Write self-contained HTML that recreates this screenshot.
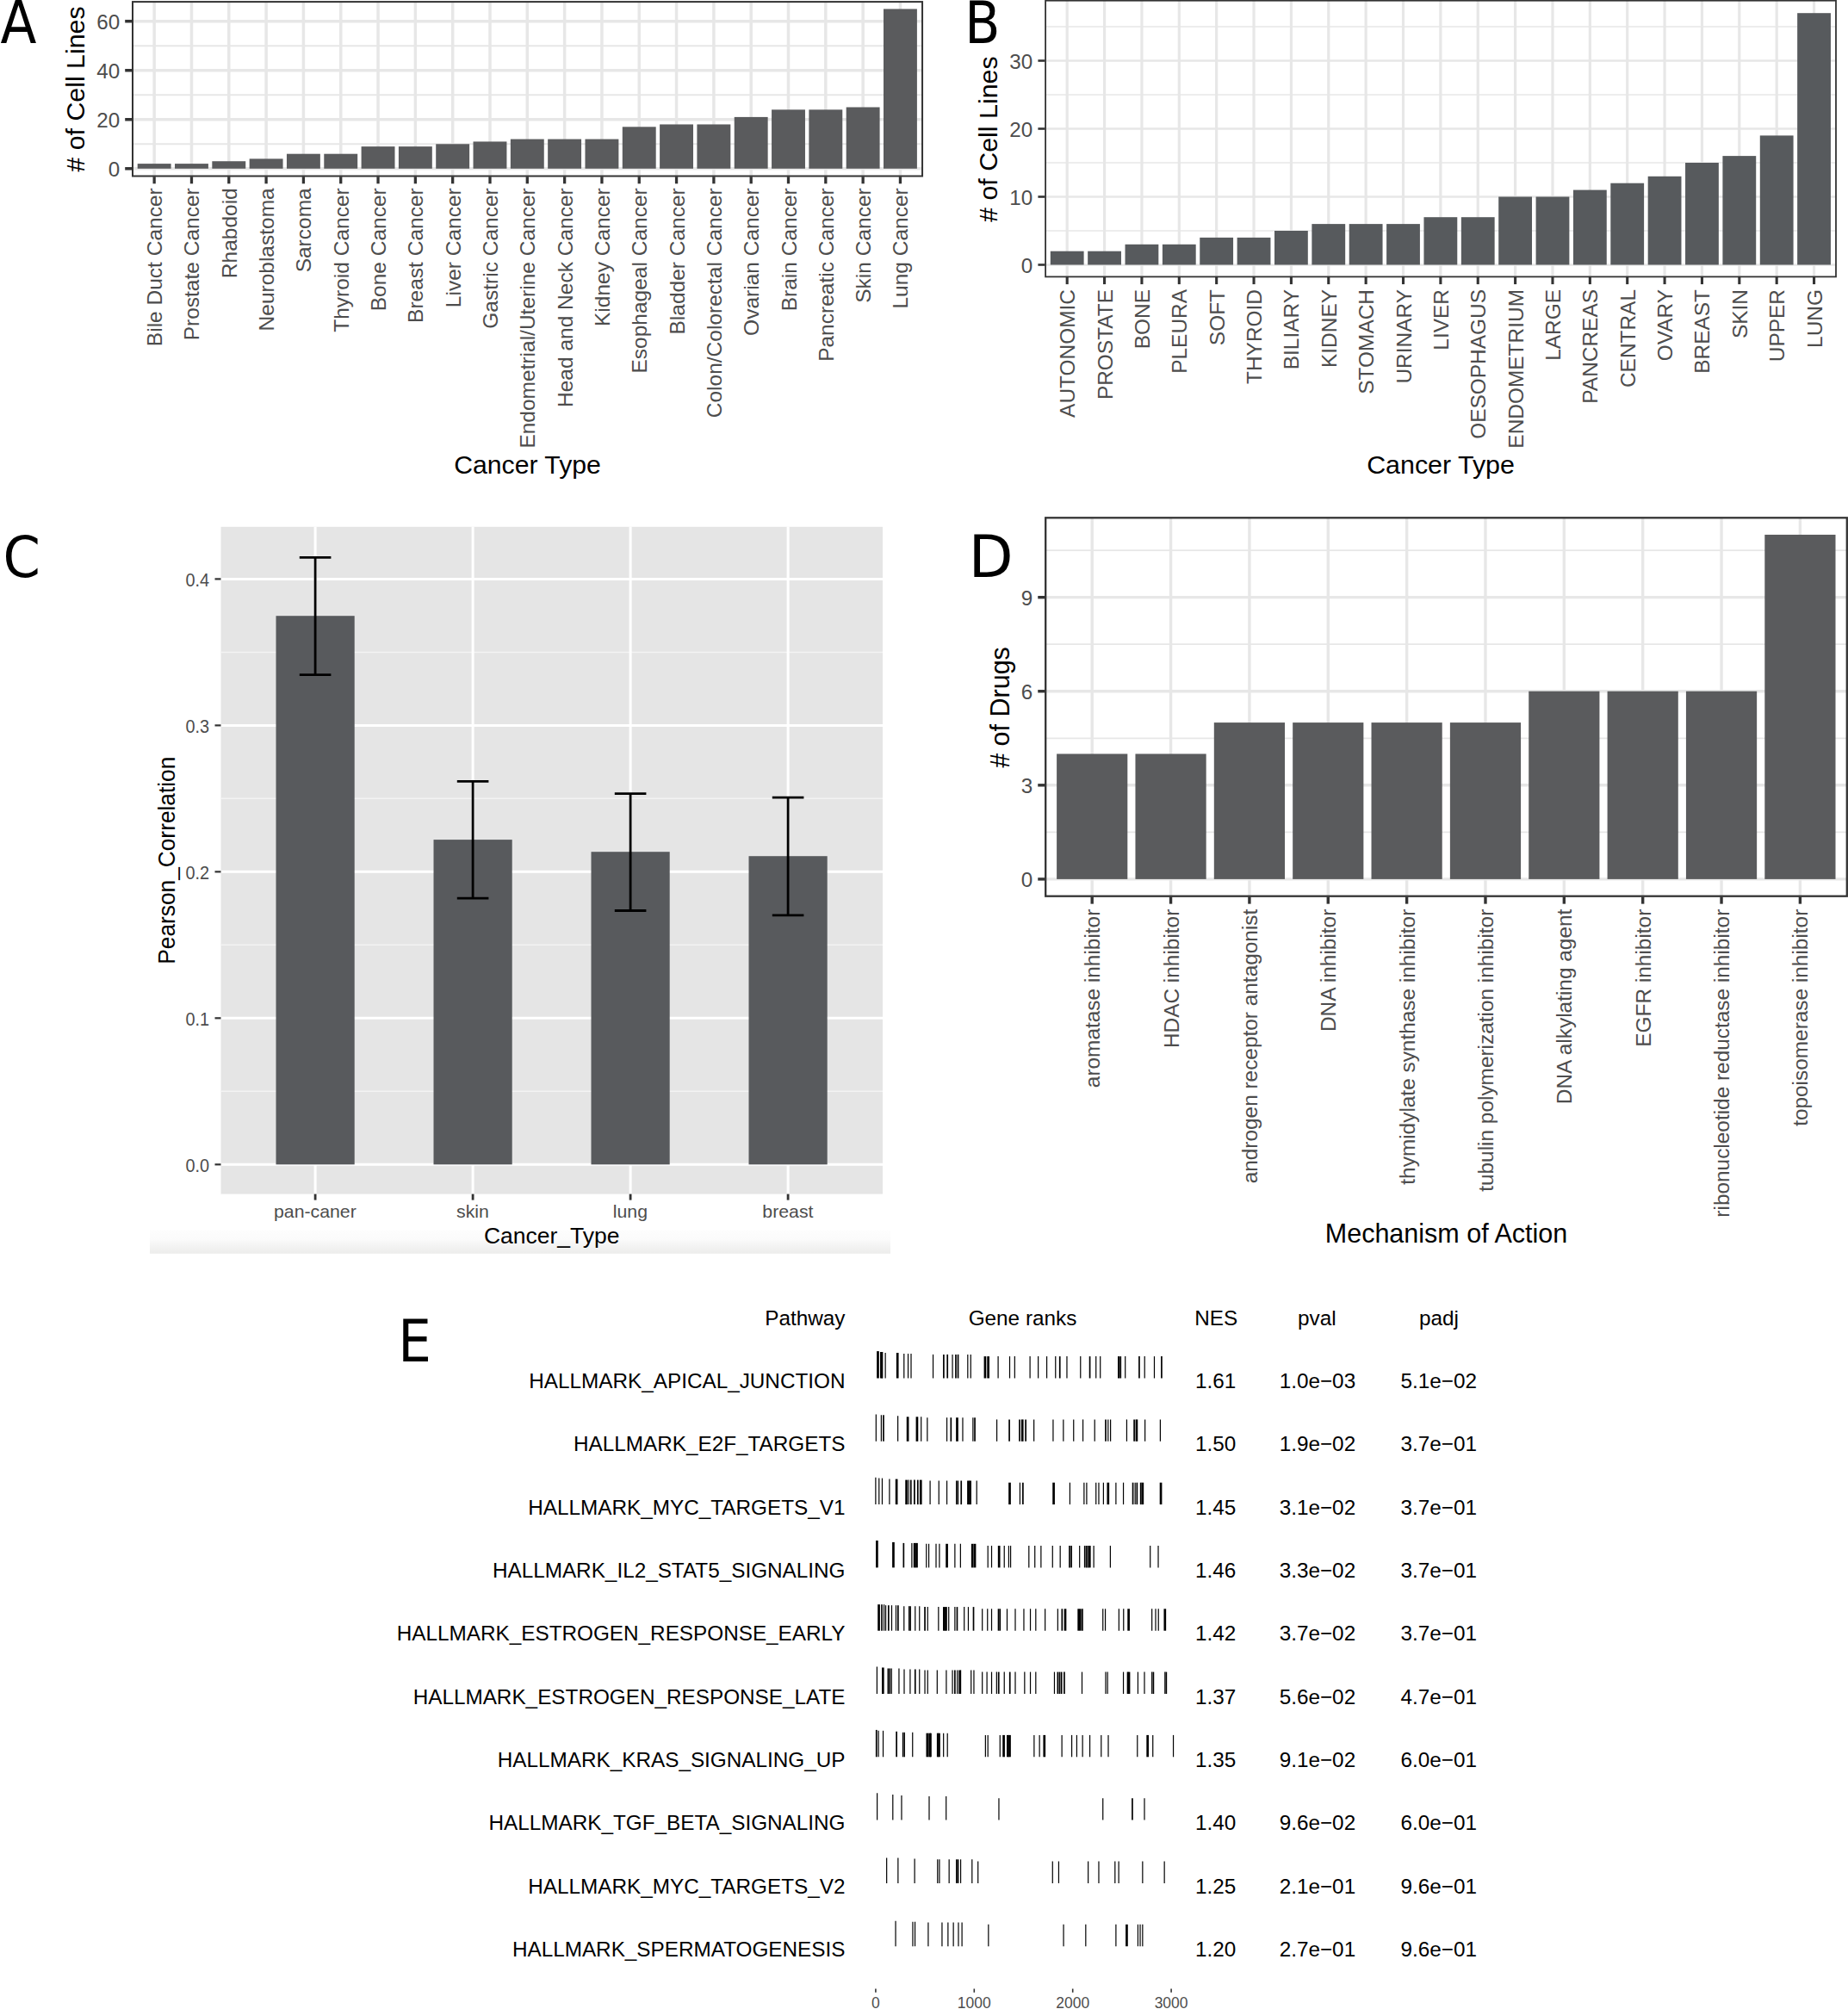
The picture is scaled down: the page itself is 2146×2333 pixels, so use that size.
<!DOCTYPE html>
<html lang="en"><head><meta charset="utf-8"><title>Figure</title>
<style>
html,body{margin:0;padding:0;background:#fff;}
body{width:2146px;height:2333px;overflow:hidden;}
svg{display:block;font-family:"Liberation Sans",sans-serif;}
</style></head><body>
<svg width="2146" height="2333" viewBox="0 0 2146 2333">
<defs><linearGradient id="fade" x1="0" y1="0" x2="0" y2="1"><stop offset="0" stop-color="#ffffff"/><stop offset="0.06" stop-color="#fdfdfd"/><stop offset="0.42" stop-color="#fbfbfb"/><stop offset="0.48" stop-color="#f8f8f8"/><stop offset="1" stop-color="#ececeb"/></linearGradient></defs>
<rect width="2146" height="2333" fill="#ffffff"/>
<g>
<line x1="154" x2="1071.05" y1="167.28" y2="167.28" stroke="#e7e7e7" stroke-width="1.9"/>
<line x1="154" x2="1071.05" y1="110.24" y2="110.24" stroke="#e7e7e7" stroke-width="1.9"/>
<line x1="154" x2="1071.05" y1="53.2" y2="53.2" stroke="#e7e7e7" stroke-width="1.9"/>
<line x1="154" x2="1071.05" y1="195.8" y2="195.8" stroke="#e7e7e7" stroke-width="3.5"/>
<line x1="154" x2="1071.05" y1="138.76" y2="138.76" stroke="#e7e7e7" stroke-width="3.5"/>
<line x1="154" x2="1071.05" y1="81.72" y2="81.72" stroke="#e7e7e7" stroke-width="3.5"/>
<line x1="154" x2="1071.05" y1="24.68" y2="24.68" stroke="#e7e7e7" stroke-width="3.5"/>
<line x1="179.15" x2="179.15" y1="2.1" y2="204.5" stroke="#e7e7e7" stroke-width="3.5"/>
<line x1="222.47" x2="222.47" y1="2.1" y2="204.5" stroke="#e7e7e7" stroke-width="3.5"/>
<line x1="265.78" x2="265.78" y1="2.1" y2="204.5" stroke="#e7e7e7" stroke-width="3.5"/>
<line x1="309.1" x2="309.1" y1="2.1" y2="204.5" stroke="#e7e7e7" stroke-width="3.5"/>
<line x1="352.41" x2="352.41" y1="2.1" y2="204.5" stroke="#e7e7e7" stroke-width="3.5"/>
<line x1="395.73" x2="395.73" y1="2.1" y2="204.5" stroke="#e7e7e7" stroke-width="3.5"/>
<line x1="439.04" x2="439.04" y1="2.1" y2="204.5" stroke="#e7e7e7" stroke-width="3.5"/>
<line x1="482.36" x2="482.36" y1="2.1" y2="204.5" stroke="#e7e7e7" stroke-width="3.5"/>
<line x1="525.67" x2="525.67" y1="2.1" y2="204.5" stroke="#e7e7e7" stroke-width="3.5"/>
<line x1="568.99" x2="568.99" y1="2.1" y2="204.5" stroke="#e7e7e7" stroke-width="3.5"/>
<line x1="612.3" x2="612.3" y1="2.1" y2="204.5" stroke="#e7e7e7" stroke-width="3.5"/>
<line x1="655.62" x2="655.62" y1="2.1" y2="204.5" stroke="#e7e7e7" stroke-width="3.5"/>
<line x1="698.93" x2="698.93" y1="2.1" y2="204.5" stroke="#e7e7e7" stroke-width="3.5"/>
<line x1="742.25" x2="742.25" y1="2.1" y2="204.5" stroke="#e7e7e7" stroke-width="3.5"/>
<line x1="785.56" x2="785.56" y1="2.1" y2="204.5" stroke="#e7e7e7" stroke-width="3.5"/>
<line x1="828.88" x2="828.88" y1="2.1" y2="204.5" stroke="#e7e7e7" stroke-width="3.5"/>
<line x1="872.19" x2="872.19" y1="2.1" y2="204.5" stroke="#e7e7e7" stroke-width="3.5"/>
<line x1="915.51" x2="915.51" y1="2.1" y2="204.5" stroke="#e7e7e7" stroke-width="3.5"/>
<line x1="958.82" x2="958.82" y1="2.1" y2="204.5" stroke="#e7e7e7" stroke-width="3.5"/>
<line x1="1002.14" x2="1002.14" y1="2.1" y2="204.5" stroke="#e7e7e7" stroke-width="3.5"/>
<line x1="1045.45" x2="1045.45" y1="2.1" y2="204.5" stroke="#e7e7e7" stroke-width="3.5"/>
<rect x="159.7" y="190.1" width="38.9" height="5.7" fill="#5a5b5d"/>
<rect x="203.02" y="190.1" width="38.9" height="5.7" fill="#5a5b5d"/>
<rect x="246.33" y="187.24" width="38.9" height="8.56" fill="#5a5b5d"/>
<rect x="289.65" y="184.39" width="38.9" height="11.41" fill="#5a5b5d"/>
<rect x="332.96" y="178.69" width="38.9" height="17.11" fill="#5a5b5d"/>
<rect x="376.28" y="178.69" width="38.9" height="17.11" fill="#5a5b5d"/>
<rect x="419.59" y="170.13" width="38.9" height="25.67" fill="#5a5b5d"/>
<rect x="462.91" y="170.13" width="38.9" height="25.67" fill="#5a5b5d"/>
<rect x="506.22" y="167.28" width="38.9" height="28.52" fill="#5a5b5d"/>
<rect x="549.53" y="164.43" width="38.9" height="31.37" fill="#5a5b5d"/>
<rect x="592.85" y="161.58" width="38.9" height="34.22" fill="#5a5b5d"/>
<rect x="636.16" y="161.58" width="38.9" height="34.22" fill="#5a5b5d"/>
<rect x="679.48" y="161.58" width="38.9" height="34.22" fill="#5a5b5d"/>
<rect x="722.79" y="147.32" width="38.9" height="48.48" fill="#5a5b5d"/>
<rect x="766.11" y="144.46" width="38.9" height="51.34" fill="#5a5b5d"/>
<rect x="809.42" y="144.46" width="38.9" height="51.34" fill="#5a5b5d"/>
<rect x="852.74" y="135.91" width="38.9" height="59.89" fill="#5a5b5d"/>
<rect x="896.06" y="127.35" width="38.9" height="68.45" fill="#5a5b5d"/>
<rect x="939.37" y="127.35" width="38.9" height="68.45" fill="#5a5b5d"/>
<rect x="982.69" y="124.5" width="38.9" height="71.3" fill="#5a5b5d"/>
<rect x="1026" y="10.42" width="38.9" height="185.38" fill="#5a5b5d"/>
<rect x="154" y="2.1" width="917.05" height="202.4" fill="none" stroke="#333333" stroke-width="2.0"/>
<line x1="145.2" x2="153.3" y1="195.8" y2="195.8" stroke="#333333" stroke-width="3.5"/>
<text x="139.2" y="204.8" font-size="24.2" fill="#4d4d4d" text-anchor="end">0</text>
<line x1="145.2" x2="153.3" y1="138.76" y2="138.76" stroke="#333333" stroke-width="3.5"/>
<text x="139.2" y="147.76" font-size="24.2" fill="#4d4d4d" text-anchor="end">20</text>
<line x1="145.2" x2="153.3" y1="81.72" y2="81.72" stroke="#333333" stroke-width="3.5"/>
<text x="139.2" y="90.72" font-size="24.2" fill="#4d4d4d" text-anchor="end">40</text>
<line x1="145.2" x2="153.3" y1="24.68" y2="24.68" stroke="#333333" stroke-width="3.5"/>
<text x="139.2" y="33.68" font-size="24.2" fill="#4d4d4d" text-anchor="end">60</text>
<line x1="179.15" x2="179.15" y1="205.2" y2="213.3" stroke="#333333" stroke-width="3.3"/>
<text transform="translate(188.15,218.3) rotate(-90)" font-size="24.5" fill="#4d4d4d" text-anchor="end">Bile Duct Cancer</text>
<line x1="222.47" x2="222.47" y1="205.2" y2="213.3" stroke="#333333" stroke-width="3.3"/>
<text transform="translate(231.47,218.3) rotate(-90)" font-size="24.5" fill="#4d4d4d" text-anchor="end">Prostate Cancer</text>
<line x1="265.78" x2="265.78" y1="205.2" y2="213.3" stroke="#333333" stroke-width="3.3"/>
<text transform="translate(274.78,218.3) rotate(-90)" font-size="24.5" fill="#4d4d4d" text-anchor="end">Rhabdoid</text>
<line x1="309.1" x2="309.1" y1="205.2" y2="213.3" stroke="#333333" stroke-width="3.3"/>
<text transform="translate(318.1,218.3) rotate(-90)" font-size="24.5" fill="#4d4d4d" text-anchor="end">Neuroblastoma</text>
<line x1="352.41" x2="352.41" y1="205.2" y2="213.3" stroke="#333333" stroke-width="3.3"/>
<text transform="translate(361.41,218.3) rotate(-90)" font-size="24.5" fill="#4d4d4d" text-anchor="end">Sarcoma</text>
<line x1="395.73" x2="395.73" y1="205.2" y2="213.3" stroke="#333333" stroke-width="3.3"/>
<text transform="translate(404.73,218.3) rotate(-90)" font-size="24.5" fill="#4d4d4d" text-anchor="end">Thyroid Cancer</text>
<line x1="439.04" x2="439.04" y1="205.2" y2="213.3" stroke="#333333" stroke-width="3.3"/>
<text transform="translate(448.04,218.3) rotate(-90)" font-size="24.5" fill="#4d4d4d" text-anchor="end">Bone Cancer</text>
<line x1="482.36" x2="482.36" y1="205.2" y2="213.3" stroke="#333333" stroke-width="3.3"/>
<text transform="translate(491.36,218.3) rotate(-90)" font-size="24.5" fill="#4d4d4d" text-anchor="end">Breast Cancer</text>
<line x1="525.67" x2="525.67" y1="205.2" y2="213.3" stroke="#333333" stroke-width="3.3"/>
<text transform="translate(534.67,218.3) rotate(-90)" font-size="24.5" fill="#4d4d4d" text-anchor="end">Liver Cancer</text>
<line x1="568.99" x2="568.99" y1="205.2" y2="213.3" stroke="#333333" stroke-width="3.3"/>
<text transform="translate(577.99,218.3) rotate(-90)" font-size="24.5" fill="#4d4d4d" text-anchor="end">Gastric Cancer</text>
<line x1="612.3" x2="612.3" y1="205.2" y2="213.3" stroke="#333333" stroke-width="3.3"/>
<text transform="translate(621.3,218.3) rotate(-90)" font-size="24.5" fill="#4d4d4d" text-anchor="end">Endometrial/Uterine Cancer</text>
<line x1="655.62" x2="655.62" y1="205.2" y2="213.3" stroke="#333333" stroke-width="3.3"/>
<text transform="translate(664.62,218.3) rotate(-90)" font-size="24.5" fill="#4d4d4d" text-anchor="end">Head and Neck Cancer</text>
<line x1="698.93" x2="698.93" y1="205.2" y2="213.3" stroke="#333333" stroke-width="3.3"/>
<text transform="translate(707.93,218.3) rotate(-90)" font-size="24.5" fill="#4d4d4d" text-anchor="end">Kidney Cancer</text>
<line x1="742.25" x2="742.25" y1="205.2" y2="213.3" stroke="#333333" stroke-width="3.3"/>
<text transform="translate(751.25,218.3) rotate(-90)" font-size="24.5" fill="#4d4d4d" text-anchor="end">Esophageal Cancer</text>
<line x1="785.56" x2="785.56" y1="205.2" y2="213.3" stroke="#333333" stroke-width="3.3"/>
<text transform="translate(794.56,218.3) rotate(-90)" font-size="24.5" fill="#4d4d4d" text-anchor="end">Bladder Cancer</text>
<line x1="828.88" x2="828.88" y1="205.2" y2="213.3" stroke="#333333" stroke-width="3.3"/>
<text transform="translate(837.88,218.3) rotate(-90)" font-size="24.5" fill="#4d4d4d" text-anchor="end">Colon/Colorectal Cancer</text>
<line x1="872.19" x2="872.19" y1="205.2" y2="213.3" stroke="#333333" stroke-width="3.3"/>
<text transform="translate(881.19,218.3) rotate(-90)" font-size="24.5" fill="#4d4d4d" text-anchor="end">Ovarian Cancer</text>
<line x1="915.51" x2="915.51" y1="205.2" y2="213.3" stroke="#333333" stroke-width="3.3"/>
<text transform="translate(924.51,218.3) rotate(-90)" font-size="24.5" fill="#4d4d4d" text-anchor="end">Brain Cancer</text>
<line x1="958.82" x2="958.82" y1="205.2" y2="213.3" stroke="#333333" stroke-width="3.3"/>
<text transform="translate(967.82,218.3) rotate(-90)" font-size="24.5" fill="#4d4d4d" text-anchor="end">Pancreatic Cancer</text>
<line x1="1002.14" x2="1002.14" y1="205.2" y2="213.3" stroke="#333333" stroke-width="3.3"/>
<text transform="translate(1011.14,218.3) rotate(-90)" font-size="24.5" fill="#4d4d4d" text-anchor="end">Skin Cancer</text>
<line x1="1045.45" x2="1045.45" y1="205.2" y2="213.3" stroke="#333333" stroke-width="3.3"/>
<text transform="translate(1054.45,218.3) rotate(-90)" font-size="24.5" fill="#4d4d4d" text-anchor="end">Lung Cancer</text>
<text transform="translate(98,103.5) rotate(-90)" font-size="30.35" fill="#000" text-anchor="middle"># of Cell Lines</text>
<text x="612.52" y="550" font-size="30.2" fill="#000" text-anchor="middle">Cancer Type</text>
</g>
<g>
<line x1="1214.1" x2="2132" y1="268" y2="268" stroke="#e7e7e7" stroke-width="1.4"/>
<line x1="1214.1" x2="2132" y1="189" y2="189" stroke="#e7e7e7" stroke-width="1.4"/>
<line x1="1214.1" x2="2132" y1="110" y2="110" stroke="#e7e7e7" stroke-width="1.4"/>
<line x1="1214.1" x2="2132" y1="31" y2="31" stroke="#e7e7e7" stroke-width="1.4"/>
<line x1="1214.1" x2="2132" y1="307.5" y2="307.5" stroke="#e7e7e7" stroke-width="2.6"/>
<line x1="1214.1" x2="2132" y1="228.5" y2="228.5" stroke="#e7e7e7" stroke-width="2.6"/>
<line x1="1214.1" x2="2132" y1="149.5" y2="149.5" stroke="#e7e7e7" stroke-width="2.6"/>
<line x1="1214.1" x2="2132" y1="70.5" y2="70.5" stroke="#e7e7e7" stroke-width="2.6"/>
<line x1="1239.2" x2="1239.2" y1="0.7" y2="321.4" stroke="#e7e7e7" stroke-width="3.2"/>
<line x1="1282.57" x2="1282.57" y1="0.7" y2="321.4" stroke="#e7e7e7" stroke-width="3.2"/>
<line x1="1325.93" x2="1325.93" y1="0.7" y2="321.4" stroke="#e7e7e7" stroke-width="3.2"/>
<line x1="1369.3" x2="1369.3" y1="0.7" y2="321.4" stroke="#e7e7e7" stroke-width="3.2"/>
<line x1="1412.67" x2="1412.67" y1="0.7" y2="321.4" stroke="#e7e7e7" stroke-width="3.2"/>
<line x1="1456.04" x2="1456.04" y1="0.7" y2="321.4" stroke="#e7e7e7" stroke-width="3.2"/>
<line x1="1499.41" x2="1499.41" y1="0.7" y2="321.4" stroke="#e7e7e7" stroke-width="3.2"/>
<line x1="1542.77" x2="1542.77" y1="0.7" y2="321.4" stroke="#e7e7e7" stroke-width="3.2"/>
<line x1="1586.14" x2="1586.14" y1="0.7" y2="321.4" stroke="#e7e7e7" stroke-width="3.2"/>
<line x1="1629.51" x2="1629.51" y1="0.7" y2="321.4" stroke="#e7e7e7" stroke-width="3.2"/>
<line x1="1672.88" x2="1672.88" y1="0.7" y2="321.4" stroke="#e7e7e7" stroke-width="3.2"/>
<line x1="1716.24" x2="1716.24" y1="0.7" y2="321.4" stroke="#e7e7e7" stroke-width="3.2"/>
<line x1="1759.61" x2="1759.61" y1="0.7" y2="321.4" stroke="#e7e7e7" stroke-width="3.2"/>
<line x1="1802.98" x2="1802.98" y1="0.7" y2="321.4" stroke="#e7e7e7" stroke-width="3.2"/>
<line x1="1846.35" x2="1846.35" y1="0.7" y2="321.4" stroke="#e7e7e7" stroke-width="3.2"/>
<line x1="1889.71" x2="1889.71" y1="0.7" y2="321.4" stroke="#e7e7e7" stroke-width="3.2"/>
<line x1="1933.08" x2="1933.08" y1="0.7" y2="321.4" stroke="#e7e7e7" stroke-width="3.2"/>
<line x1="1976.45" x2="1976.45" y1="0.7" y2="321.4" stroke="#e7e7e7" stroke-width="3.2"/>
<line x1="2019.82" x2="2019.82" y1="0.7" y2="321.4" stroke="#e7e7e7" stroke-width="3.2"/>
<line x1="2063.18" x2="2063.18" y1="0.7" y2="321.4" stroke="#e7e7e7" stroke-width="3.2"/>
<line x1="2106.55" x2="2106.55" y1="0.7" y2="321.4" stroke="#e7e7e7" stroke-width="3.2"/>
<rect x="1219.8" y="291.7" width="38.8" height="15.8" fill="#575a5d"/>
<rect x="1263.17" y="291.7" width="38.8" height="15.8" fill="#575a5d"/>
<rect x="1306.53" y="283.8" width="38.8" height="23.7" fill="#575a5d"/>
<rect x="1349.9" y="283.8" width="38.8" height="23.7" fill="#575a5d"/>
<rect x="1393.27" y="275.9" width="38.8" height="31.6" fill="#575a5d"/>
<rect x="1436.64" y="275.9" width="38.8" height="31.6" fill="#575a5d"/>
<rect x="1480.01" y="268" width="38.8" height="39.5" fill="#575a5d"/>
<rect x="1523.37" y="260.1" width="38.8" height="47.4" fill="#575a5d"/>
<rect x="1566.74" y="260.1" width="38.8" height="47.4" fill="#575a5d"/>
<rect x="1610.11" y="260.1" width="38.8" height="47.4" fill="#575a5d"/>
<rect x="1653.47" y="252.2" width="38.8" height="55.3" fill="#575a5d"/>
<rect x="1696.84" y="252.2" width="38.8" height="55.3" fill="#575a5d"/>
<rect x="1740.21" y="228.5" width="38.8" height="79" fill="#575a5d"/>
<rect x="1783.58" y="228.5" width="38.8" height="79" fill="#575a5d"/>
<rect x="1826.95" y="220.6" width="38.8" height="86.9" fill="#575a5d"/>
<rect x="1870.31" y="212.7" width="38.8" height="94.8" fill="#575a5d"/>
<rect x="1913.68" y="204.8" width="38.8" height="102.7" fill="#575a5d"/>
<rect x="1957.05" y="189" width="38.8" height="118.5" fill="#575a5d"/>
<rect x="2000.41" y="181.1" width="38.8" height="126.4" fill="#575a5d"/>
<rect x="2043.78" y="157.4" width="38.8" height="150.1" fill="#575a5d"/>
<rect x="2087.15" y="15.2" width="38.8" height="292.3" fill="#575a5d"/>
<rect x="1214.1" y="0.7" width="917.9" height="320.7" fill="none" stroke="#333333" stroke-width="1.8"/>
<line x1="1205.4" x2="1213.5" y1="307.5" y2="307.5" stroke="#333333" stroke-width="2.6"/>
<text x="1199.2" y="316.5" font-size="24.2" fill="#4d4d4d" text-anchor="end">0</text>
<line x1="1205.4" x2="1213.5" y1="228.5" y2="228.5" stroke="#333333" stroke-width="2.6"/>
<text x="1199.2" y="237.5" font-size="24.2" fill="#4d4d4d" text-anchor="end">10</text>
<line x1="1205.4" x2="1213.5" y1="149.5" y2="149.5" stroke="#333333" stroke-width="2.6"/>
<text x="1199.2" y="158.5" font-size="24.2" fill="#4d4d4d" text-anchor="end">20</text>
<line x1="1205.4" x2="1213.5" y1="70.5" y2="70.5" stroke="#333333" stroke-width="2.6"/>
<text x="1199.2" y="79.5" font-size="24.2" fill="#4d4d4d" text-anchor="end">30</text>
<line x1="1239.2" x2="1239.2" y1="322" y2="330.1" stroke="#333333" stroke-width="3.1"/>
<text transform="translate(1248.2,336) rotate(-90)" font-size="24.45" fill="#4d4d4d" text-anchor="end">AUTONOMIC</text>
<line x1="1282.57" x2="1282.57" y1="322" y2="330.1" stroke="#333333" stroke-width="3.1"/>
<text transform="translate(1291.57,336) rotate(-90)" font-size="24.45" fill="#4d4d4d" text-anchor="end">PROSTATE</text>
<line x1="1325.93" x2="1325.93" y1="322" y2="330.1" stroke="#333333" stroke-width="3.1"/>
<text transform="translate(1334.93,336) rotate(-90)" font-size="24.45" fill="#4d4d4d" text-anchor="end">BONE</text>
<line x1="1369.3" x2="1369.3" y1="322" y2="330.1" stroke="#333333" stroke-width="3.1"/>
<text transform="translate(1378.3,336) rotate(-90)" font-size="24.45" fill="#4d4d4d" text-anchor="end">PLEURA</text>
<line x1="1412.67" x2="1412.67" y1="322" y2="330.1" stroke="#333333" stroke-width="3.1"/>
<text transform="translate(1421.67,336) rotate(-90)" font-size="24.45" fill="#4d4d4d" text-anchor="end">SOFT</text>
<line x1="1456.04" x2="1456.04" y1="322" y2="330.1" stroke="#333333" stroke-width="3.1"/>
<text transform="translate(1465.04,336) rotate(-90)" font-size="24.45" fill="#4d4d4d" text-anchor="end">THYROID</text>
<line x1="1499.41" x2="1499.41" y1="322" y2="330.1" stroke="#333333" stroke-width="3.1"/>
<text transform="translate(1508.41,336) rotate(-90)" font-size="24.45" fill="#4d4d4d" text-anchor="end">BILIARY</text>
<line x1="1542.77" x2="1542.77" y1="322" y2="330.1" stroke="#333333" stroke-width="3.1"/>
<text transform="translate(1551.77,336) rotate(-90)" font-size="24.45" fill="#4d4d4d" text-anchor="end">KIDNEY</text>
<line x1="1586.14" x2="1586.14" y1="322" y2="330.1" stroke="#333333" stroke-width="3.1"/>
<text transform="translate(1595.14,336) rotate(-90)" font-size="24.45" fill="#4d4d4d" text-anchor="end">STOMACH</text>
<line x1="1629.51" x2="1629.51" y1="322" y2="330.1" stroke="#333333" stroke-width="3.1"/>
<text transform="translate(1638.51,336) rotate(-90)" font-size="24.45" fill="#4d4d4d" text-anchor="end">URINARY</text>
<line x1="1672.88" x2="1672.88" y1="322" y2="330.1" stroke="#333333" stroke-width="3.1"/>
<text transform="translate(1681.88,336) rotate(-90)" font-size="24.45" fill="#4d4d4d" text-anchor="end">LIVER</text>
<line x1="1716.24" x2="1716.24" y1="322" y2="330.1" stroke="#333333" stroke-width="3.1"/>
<text transform="translate(1725.24,336) rotate(-90)" font-size="24.45" fill="#4d4d4d" text-anchor="end">OESOPHAGUS</text>
<line x1="1759.61" x2="1759.61" y1="322" y2="330.1" stroke="#333333" stroke-width="3.1"/>
<text transform="translate(1768.61,336) rotate(-90)" font-size="24.45" fill="#4d4d4d" text-anchor="end">ENDOMETRIUM</text>
<line x1="1802.98" x2="1802.98" y1="322" y2="330.1" stroke="#333333" stroke-width="3.1"/>
<text transform="translate(1811.98,336) rotate(-90)" font-size="24.45" fill="#4d4d4d" text-anchor="end">LARGE</text>
<line x1="1846.35" x2="1846.35" y1="322" y2="330.1" stroke="#333333" stroke-width="3.1"/>
<text transform="translate(1855.35,336) rotate(-90)" font-size="24.45" fill="#4d4d4d" text-anchor="end">PANCREAS</text>
<line x1="1889.71" x2="1889.71" y1="322" y2="330.1" stroke="#333333" stroke-width="3.1"/>
<text transform="translate(1898.71,336) rotate(-90)" font-size="24.45" fill="#4d4d4d" text-anchor="end">CENTRAL</text>
<line x1="1933.08" x2="1933.08" y1="322" y2="330.1" stroke="#333333" stroke-width="3.1"/>
<text transform="translate(1942.08,336) rotate(-90)" font-size="24.45" fill="#4d4d4d" text-anchor="end">OVARY</text>
<line x1="1976.45" x2="1976.45" y1="322" y2="330.1" stroke="#333333" stroke-width="3.1"/>
<text transform="translate(1985.45,336) rotate(-90)" font-size="24.45" fill="#4d4d4d" text-anchor="end">BREAST</text>
<line x1="2019.82" x2="2019.82" y1="322" y2="330.1" stroke="#333333" stroke-width="3.1"/>
<text transform="translate(2028.82,336) rotate(-90)" font-size="24.45" fill="#4d4d4d" text-anchor="end">SKIN</text>
<line x1="2063.18" x2="2063.18" y1="322" y2="330.1" stroke="#333333" stroke-width="3.1"/>
<text transform="translate(2072.18,336) rotate(-90)" font-size="24.45" fill="#4d4d4d" text-anchor="end">UPPER</text>
<line x1="2106.55" x2="2106.55" y1="322" y2="330.1" stroke="#333333" stroke-width="3.1"/>
<text transform="translate(2115.55,336) rotate(-90)" font-size="24.45" fill="#4d4d4d" text-anchor="end">LUNG</text>
<text transform="translate(1157.7,161.6) rotate(-90)" font-size="30.4" fill="#000" text-anchor="middle"># of Cell Lines</text>
<text x="1673.05" y="550.3" font-size="30.4" fill="#000" text-anchor="middle">Cancer Type</text>
</g>
<g>
<line x1="1214.2" x2="2144.8" y1="966.36" y2="966.36" stroke="#e7e7e7" stroke-width="1.8"/>
<line x1="1214.2" x2="2144.8" y1="857.28" y2="857.28" stroke="#e7e7e7" stroke-width="1.8"/>
<line x1="1214.2" x2="2144.8" y1="748.2" y2="748.2" stroke="#e7e7e7" stroke-width="1.8"/>
<line x1="1214.2" x2="2144.8" y1="639.12" y2="639.12" stroke="#e7e7e7" stroke-width="1.8"/>
<line x1="1214.2" x2="2144.8" y1="1020.9" y2="1020.9" stroke="#e7e7e7" stroke-width="3.4"/>
<line x1="1214.2" x2="2144.8" y1="911.82" y2="911.82" stroke="#e7e7e7" stroke-width="3.4"/>
<line x1="1214.2" x2="2144.8" y1="802.74" y2="802.74" stroke="#e7e7e7" stroke-width="3.4"/>
<line x1="1214.2" x2="2144.8" y1="693.66" y2="693.66" stroke="#e7e7e7" stroke-width="3.4"/>
<line x1="1268.2" x2="1268.2" y1="601.3" y2="1040.7" stroke="#e7e7e7" stroke-width="3.4"/>
<line x1="1359.56" x2="1359.56" y1="601.3" y2="1040.7" stroke="#e7e7e7" stroke-width="3.4"/>
<line x1="1450.91" x2="1450.91" y1="601.3" y2="1040.7" stroke="#e7e7e7" stroke-width="3.4"/>
<line x1="1542.27" x2="1542.27" y1="601.3" y2="1040.7" stroke="#e7e7e7" stroke-width="3.4"/>
<line x1="1633.62" x2="1633.62" y1="601.3" y2="1040.7" stroke="#e7e7e7" stroke-width="3.4"/>
<line x1="1724.98" x2="1724.98" y1="601.3" y2="1040.7" stroke="#e7e7e7" stroke-width="3.4"/>
<line x1="1816.33" x2="1816.33" y1="601.3" y2="1040.7" stroke="#e7e7e7" stroke-width="3.4"/>
<line x1="1907.69" x2="1907.69" y1="601.3" y2="1040.7" stroke="#e7e7e7" stroke-width="3.4"/>
<line x1="1999.04" x2="1999.04" y1="601.3" y2="1040.7" stroke="#e7e7e7" stroke-width="3.4"/>
<line x1="2090.4" x2="2090.4" y1="601.3" y2="1040.7" stroke="#e7e7e7" stroke-width="3.4"/>
<rect x="1227.1" y="875.46" width="82.2" height="145.44" fill="#5a5b5d"/>
<rect x="1318.46" y="875.46" width="82.2" height="145.44" fill="#5a5b5d"/>
<rect x="1409.81" y="839.1" width="82.2" height="181.8" fill="#5a5b5d"/>
<rect x="1501.17" y="839.1" width="82.2" height="181.8" fill="#5a5b5d"/>
<rect x="1592.52" y="839.1" width="82.2" height="181.8" fill="#5a5b5d"/>
<rect x="1683.88" y="839.1" width="82.2" height="181.8" fill="#5a5b5d"/>
<rect x="1775.23" y="802.74" width="82.2" height="218.16" fill="#5a5b5d"/>
<rect x="1866.59" y="802.74" width="82.2" height="218.16" fill="#5a5b5d"/>
<rect x="1957.94" y="802.74" width="82.2" height="218.16" fill="#5a5b5d"/>
<rect x="2049.3" y="620.94" width="82.2" height="399.96" fill="#5a5b5d"/>
<rect x="1214.2" y="601.3" width="930.6" height="439.4" fill="none" stroke="#333333" stroke-width="2.3"/>
<line x1="1205.25" x2="1213.35" y1="1020.9" y2="1020.9" stroke="#333333" stroke-width="3.4"/>
<text x="1199.2" y="1029.9" font-size="24.2" fill="#4d4d4d" text-anchor="end">0</text>
<line x1="1205.25" x2="1213.35" y1="911.82" y2="911.82" stroke="#333333" stroke-width="3.4"/>
<text x="1199.2" y="920.82" font-size="24.2" fill="#4d4d4d" text-anchor="end">3</text>
<line x1="1205.25" x2="1213.35" y1="802.74" y2="802.74" stroke="#333333" stroke-width="3.4"/>
<text x="1199.2" y="811.74" font-size="24.2" fill="#4d4d4d" text-anchor="end">6</text>
<line x1="1205.25" x2="1213.35" y1="693.66" y2="693.66" stroke="#333333" stroke-width="3.4"/>
<text x="1199.2" y="702.66" font-size="24.2" fill="#4d4d4d" text-anchor="end">9</text>
<line x1="1268.2" x2="1268.2" y1="1041.55" y2="1049.65" stroke="#333333" stroke-width="3.4"/>
<text transform="translate(1277.2,1055.7) rotate(-90)" font-size="24.4" fill="#4d4d4d" text-anchor="end">aromatase inhibitor</text>
<line x1="1359.56" x2="1359.56" y1="1041.55" y2="1049.65" stroke="#333333" stroke-width="3.4"/>
<text transform="translate(1368.56,1055.7) rotate(-90)" font-size="24.4" fill="#4d4d4d" text-anchor="end">HDAC inhibitor</text>
<line x1="1450.91" x2="1450.91" y1="1041.55" y2="1049.65" stroke="#333333" stroke-width="3.4"/>
<text transform="translate(1459.91,1055.7) rotate(-90)" font-size="24.4" fill="#4d4d4d" text-anchor="end">androgen receptor antagonist</text>
<line x1="1542.27" x2="1542.27" y1="1041.55" y2="1049.65" stroke="#333333" stroke-width="3.4"/>
<text transform="translate(1551.27,1055.7) rotate(-90)" font-size="24.4" fill="#4d4d4d" text-anchor="end">DNA inhibitor</text>
<line x1="1633.62" x2="1633.62" y1="1041.55" y2="1049.65" stroke="#333333" stroke-width="3.4"/>
<text transform="translate(1642.62,1055.7) rotate(-90)" font-size="24.4" fill="#4d4d4d" text-anchor="end">thymidylate synthase inhibitor</text>
<line x1="1724.98" x2="1724.98" y1="1041.55" y2="1049.65" stroke="#333333" stroke-width="3.4"/>
<text transform="translate(1733.98,1055.7) rotate(-90)" font-size="24.4" fill="#4d4d4d" text-anchor="end">tubulin polymerization inhibitor</text>
<line x1="1816.33" x2="1816.33" y1="1041.55" y2="1049.65" stroke="#333333" stroke-width="3.4"/>
<text transform="translate(1825.33,1055.7) rotate(-90)" font-size="24.4" fill="#4d4d4d" text-anchor="end">DNA alkylating agent</text>
<line x1="1907.69" x2="1907.69" y1="1041.55" y2="1049.65" stroke="#333333" stroke-width="3.4"/>
<text transform="translate(1916.69,1055.7) rotate(-90)" font-size="24.4" fill="#4d4d4d" text-anchor="end">EGFR inhibitor</text>
<line x1="1999.04" x2="1999.04" y1="1041.55" y2="1049.65" stroke="#333333" stroke-width="3.4"/>
<text transform="translate(2008.04,1055.7) rotate(-90)" font-size="24.4" fill="#4d4d4d" text-anchor="end">ribonucleotide reductase inhibitor</text>
<line x1="2090.4" x2="2090.4" y1="1041.55" y2="1049.65" stroke="#333333" stroke-width="3.4"/>
<text transform="translate(2099.4,1055.7) rotate(-90)" font-size="24.4" fill="#4d4d4d" text-anchor="end">topoisomerase inhibitor</text>
<text transform="translate(1171.7,821.5) rotate(-90)" font-size="30.5" fill="#000" text-anchor="middle"># of Drugs</text>
<text x="1679.5" y="1442.6" font-size="30.5" fill="#000" text-anchor="middle">Mechanism of Action</text>
</g>
<g>
<rect x="256.5" y="611.8" width="768.5" height="774.8" fill="#e5e5e5"/>
<line x1="256.5" x2="1025.0" y1="1267.31" y2="1267.31" stroke="#f3f3f3" stroke-width="1.5"/>
<line x1="256.5" x2="1025.0" y1="1097.34" y2="1097.34" stroke="#f3f3f3" stroke-width="1.5"/>
<line x1="256.5" x2="1025.0" y1="927.36" y2="927.36" stroke="#f3f3f3" stroke-width="1.5"/>
<line x1="256.5" x2="1025.0" y1="757.39" y2="757.39" stroke="#f3f3f3" stroke-width="1.5"/>
<line x1="256.5" x2="1025.0" y1="1352.3" y2="1352.3" stroke="#ffffff" stroke-width="3.0"/>
<line x1="256.5" x2="1025.0" y1="1182.32" y2="1182.32" stroke="#ffffff" stroke-width="3.0"/>
<line x1="256.5" x2="1025.0" y1="1012.35" y2="1012.35" stroke="#ffffff" stroke-width="3.0"/>
<line x1="256.5" x2="1025.0" y1="842.38" y2="842.38" stroke="#ffffff" stroke-width="3.0"/>
<line x1="256.5" x2="1025.0" y1="672.4" y2="672.4" stroke="#ffffff" stroke-width="3.0"/>
<line x1="366.1" x2="366.1" y1="611.8" y2="1386.6" stroke="#ffffff" stroke-width="3.0"/>
<line x1="549.1" x2="549.1" y1="611.8" y2="1386.6" stroke="#ffffff" stroke-width="3.0"/>
<line x1="732.1" x2="732.1" y1="611.8" y2="1386.6" stroke="#ffffff" stroke-width="3.0"/>
<line x1="915.1" x2="915.1" y1="611.8" y2="1386.6" stroke="#ffffff" stroke-width="3.0"/>
<rect x="320.5" y="715.2" width="91.2" height="637.1" fill="#585a5d"/>
<rect x="503.5" y="975.1" width="91.2" height="377.2" fill="#585a5d"/>
<rect x="686.5" y="989.2" width="91.2" height="363.1" fill="#585a5d"/>
<rect x="869.5" y="994.2" width="91.2" height="358.1" fill="#585a5d"/>
<path d="M347.8 647.4H384.4M347.8 783.6H384.4M366.1 647.4V783.6" stroke="#000" stroke-width="2.8" fill="none"/>
<path d="M530.8 907.3H567.4M530.8 1043.2H567.4M549.1 907.3V1043.2" stroke="#000" stroke-width="2.8" fill="none"/>
<path d="M713.8 921.6H750.4M713.8 1057.5H750.4M732.1 921.6V1057.5" stroke="#000" stroke-width="2.8" fill="none"/>
<path d="M896.8 926.1H933.4M896.8 1062.9H933.4M915.1 926.1V1062.9" stroke="#000" stroke-width="2.8" fill="none"/>
<line x1="249.5" x2="256.5" y1="1352.3" y2="1352.3" stroke="#333333" stroke-width="2.2"/>
<text transform="translate(243.1,1360.9) scale(1,1.14)" font-size="19.9" fill="#4d4d4d" text-anchor="end">0.0</text>
<line x1="249.5" x2="256.5" y1="1182.32" y2="1182.32" stroke="#333333" stroke-width="2.2"/>
<text transform="translate(243.1,1190.92) scale(1,1.14)" font-size="19.9" fill="#4d4d4d" text-anchor="end">0.1</text>
<line x1="249.5" x2="256.5" y1="1012.35" y2="1012.35" stroke="#333333" stroke-width="2.2"/>
<text transform="translate(243.1,1020.95) scale(1,1.14)" font-size="19.9" fill="#4d4d4d" text-anchor="end">0.2</text>
<line x1="249.5" x2="256.5" y1="842.38" y2="842.38" stroke="#333333" stroke-width="2.2"/>
<text transform="translate(243.1,850.98) scale(1,1.14)" font-size="19.9" fill="#4d4d4d" text-anchor="end">0.3</text>
<line x1="249.5" x2="256.5" y1="672.4" y2="672.4" stroke="#333333" stroke-width="2.2"/>
<text transform="translate(243.1,681) scale(1,1.14)" font-size="19.9" fill="#4d4d4d" text-anchor="end">0.4</text>
<line x1="366.1" x2="366.1" y1="1386.6" y2="1393.6" stroke="#333333" stroke-width="2.8"/>
<text transform="translate(365.9,1414.2) scale(1.043,1)" font-size="20.4" fill="#4d4d4d" text-anchor="middle">pan-caner</text>
<line x1="549.1" x2="549.1" y1="1386.6" y2="1393.6" stroke="#333333" stroke-width="2.8"/>
<text transform="translate(548.9,1414.2) scale(1.043,1)" font-size="20.4" fill="#4d4d4d" text-anchor="middle">skin</text>
<line x1="732.1" x2="732.1" y1="1386.6" y2="1393.6" stroke="#333333" stroke-width="2.8"/>
<text transform="translate(731.9,1414.2) scale(1.043,1)" font-size="20.4" fill="#4d4d4d" text-anchor="middle">lung</text>
<line x1="915.1" x2="915.1" y1="1386.6" y2="1393.6" stroke="#333333" stroke-width="2.8"/>
<text transform="translate(914.9,1414.2) scale(1.043,1)" font-size="20.4" fill="#4d4d4d" text-anchor="middle">breast</text>
<text transform="translate(203,999.2) rotate(-90) scale(1,1.07)" font-size="26.3" fill="#000" text-anchor="middle">Pearson_Correlation</text>
<rect x="174" y="1428" width="860" height="27.8" fill="url(#fade)"/>
<text x="640.75" y="1444.0" font-size="26.5" fill="#000" text-anchor="middle">Cancer_Type</text>
</g>
<text transform="translate(0.4,50) scale(0.894,1)" font-family="DejaVu Sans, Liberation Sans, sans-serif" font-size="68.6" fill="#000">A</text>
<text transform="translate(1120.3,50) scale(0.88,1)" font-family="DejaVu Sans, Liberation Sans, sans-serif" font-size="68.2" fill="#000">B</text>
<text transform="translate(3.6,670) scale(0.935,1)" font-family="DejaVu Sans, Liberation Sans, sans-serif" font-size="66.5" fill="#000">C</text>
<text transform="translate(1124.8,670.2) scale(0.985,1)" font-family="DejaVu Sans, Liberation Sans, sans-serif" font-size="68.4" fill="#000">D</text>
<text transform="translate(462.3,1580.9) scale(0.905,1)" font-family="DejaVu Sans, Liberation Sans, sans-serif" font-size="67.6" fill="#000">E</text>
<g fill="#000" font-size="24.3">
<text x="981.5" y="1539.2" text-anchor="end">Pathway</text>
<text x="1187.5" y="1539.2" text-anchor="middle">Gene ranks</text>
<text x="1412.3" y="1539.2" text-anchor="middle">NES</text>
<text x="1529.3" y="1539.2" text-anchor="middle">pval</text>
<text x="1671.0" y="1539.2" text-anchor="middle">padj</text>
<text x="981.5" y="1611.9" text-anchor="end">HALLMARK_APICAL_JUNCTION</text>
<text x="1411.6" y="1611.9" text-anchor="middle">1.61</text>
<text x="1529.9" y="1611.9" text-anchor="middle">1.0e−03</text>
<text x="1670.8" y="1611.9" text-anchor="middle">5.1e−02</text>
<text x="981.5" y="1685.25" text-anchor="end">HALLMARK_E2F_TARGETS</text>
<text x="1411.6" y="1685.25" text-anchor="middle">1.50</text>
<text x="1529.9" y="1685.25" text-anchor="middle">1.9e−02</text>
<text x="1670.8" y="1685.25" text-anchor="middle">3.7e−01</text>
<text x="981.5" y="1758.6" text-anchor="end">HALLMARK_MYC_TARGETS_V1</text>
<text x="1411.6" y="1758.6" text-anchor="middle">1.45</text>
<text x="1529.9" y="1758.6" text-anchor="middle">3.1e−02</text>
<text x="1670.8" y="1758.6" text-anchor="middle">3.7e−01</text>
<text x="981.5" y="1831.95" text-anchor="end">HALLMARK_IL2_STAT5_SIGNALING</text>
<text x="1411.6" y="1831.95" text-anchor="middle">1.46</text>
<text x="1529.9" y="1831.95" text-anchor="middle">3.3e−02</text>
<text x="1670.8" y="1831.95" text-anchor="middle">3.7e−01</text>
<text x="981.5" y="1905.3" text-anchor="end">HALLMARK_ESTROGEN_RESPONSE_EARLY</text>
<text x="1411.6" y="1905.3" text-anchor="middle">1.42</text>
<text x="1529.9" y="1905.3" text-anchor="middle">3.7e−02</text>
<text x="1670.8" y="1905.3" text-anchor="middle">3.7e−01</text>
<text x="981.5" y="1978.65" text-anchor="end">HALLMARK_ESTROGEN_RESPONSE_LATE</text>
<text x="1411.6" y="1978.65" text-anchor="middle">1.37</text>
<text x="1529.9" y="1978.65" text-anchor="middle">5.6e−02</text>
<text x="1670.8" y="1978.65" text-anchor="middle">4.7e−01</text>
<text x="981.5" y="2052" text-anchor="end">HALLMARK_KRAS_SIGNALING_UP</text>
<text x="1411.6" y="2052" text-anchor="middle">1.35</text>
<text x="1529.9" y="2052" text-anchor="middle">9.1e−02</text>
<text x="1670.8" y="2052" text-anchor="middle">6.0e−01</text>
<text x="981.5" y="2125.35" text-anchor="end">HALLMARK_TGF_BETA_SIGNALING</text>
<text x="1411.6" y="2125.35" text-anchor="middle">1.40</text>
<text x="1529.9" y="2125.35" text-anchor="middle">9.6e−02</text>
<text x="1670.8" y="2125.35" text-anchor="middle">6.0e−01</text>
<text x="981.5" y="2198.7" text-anchor="end">HALLMARK_MYC_TARGETS_V2</text>
<text x="1411.6" y="2198.7" text-anchor="middle">1.25</text>
<text x="1529.9" y="2198.7" text-anchor="middle">2.1e−01</text>
<text x="1670.8" y="2198.7" text-anchor="middle">9.6e−01</text>
<text x="981.5" y="2272.05" text-anchor="end">HALLMARK_SPERMATOGENESIS</text>
<text x="1411.6" y="2272.05" text-anchor="middle">1.20</text>
<text x="1529.9" y="2272.05" text-anchor="middle">2.7e−01</text>
<text x="1670.8" y="2272.05" text-anchor="middle">9.6e−01</text>
</g>
<g stroke="#000">
<line x1="1019.48" x2="1019.48" y1="1569.1" y2="1600.5" stroke-width="2.7"/>
<line x1="1023.38" x2="1023.38" y1="1570" y2="1600.5" stroke-width="2.7"/>
<line x1="1024.46" x2="1024.46" y1="1570" y2="1600.5" stroke-width="1.7"/>
<line x1="1028.14" x2="1028.14" y1="1571" y2="1600.5" stroke-width="1.2"/>
<line x1="1042.21" x2="1042.21" y1="1571" y2="1600.5" stroke-width="2.7"/>
<line x1="1049.78" x2="1049.78" y1="1572" y2="1600.5" stroke-width="1.2"/>
<line x1="1054.55" x2="1054.55" y1="1572" y2="1600.5" stroke-width="1.2"/>
<line x1="1058.01" x2="1058.01" y1="1572" y2="1600.5" stroke-width="1.2"/>
<line x1="1083.55" x2="1083.55" y1="1572.9" y2="1600.5" stroke-width="1.2"/>
<line x1="1095.89" x2="1095.89" y1="1572.9" y2="1600.5" stroke-width="1.7"/>
<line x1="1100.22" x2="1100.22" y1="1572.9" y2="1600.5" stroke-width="1.7"/>
<line x1="1106.06" x2="1106.06" y1="1572.9" y2="1600.5" stroke-width="1.2"/>
<line x1="1109.96" x2="1109.96" y1="1572.9" y2="1600.5" stroke-width="1.7"/>
<line x1="1112.55" x2="1112.55" y1="1572.9" y2="1600.5" stroke-width="1.7"/>
<line x1="1123.81" x2="1123.81" y1="1572.9" y2="1600.5" stroke-width="1.2"/>
<line x1="1127.27" x2="1127.27" y1="1572.9" y2="1600.5" stroke-width="1.2"/>
<line x1="1143.94" x2="1143.94" y1="1575.1" y2="1600.5" stroke-width="2.7"/>
<line x1="1147.62" x2="1147.62" y1="1575.1" y2="1600.5" stroke-width="2.7"/>
<line x1="1159.09" x2="1159.09" y1="1575.1" y2="1600.5" stroke-width="1.2"/>
<line x1="1172.51" x2="1172.51" y1="1575.1" y2="1600.5" stroke-width="1.2"/>
<line x1="1178.35" x2="1178.35" y1="1575.1" y2="1600.5" stroke-width="1.2"/>
<line x1="1196.1" x2="1196.1" y1="1575.1" y2="1600.5" stroke-width="1.2"/>
<line x1="1205.63" x2="1205.63" y1="1575.1" y2="1600.5" stroke-width="1.2"/>
<line x1="1215.58" x2="1215.58" y1="1575.1" y2="1600.5" stroke-width="1.2"/>
<line x1="1225.76" x2="1225.76" y1="1575.1" y2="1600.5" stroke-width="1.2"/>
<line x1="1230.74" x2="1230.74" y1="1575.1" y2="1600.5" stroke-width="1.7"/>
<line x1="1238.96" x2="1238.96" y1="1575.1" y2="1600.5" stroke-width="1.2"/>
<line x1="1254.76" x2="1254.76" y1="1575.1" y2="1600.5" stroke-width="1.2"/>
<line x1="1265.58" x2="1265.58" y1="1575.1" y2="1600.5" stroke-width="1.7"/>
<line x1="1272.73" x2="1272.73" y1="1575.1" y2="1600.5" stroke-width="1.2"/>
<line x1="1277.71" x2="1277.71" y1="1575.1" y2="1600.5" stroke-width="1.2"/>
<line x1="1299.35" x2="1299.35" y1="1575.1" y2="1600.5" stroke-width="2.7"/>
<line x1="1301.52" x2="1301.52" y1="1575.1" y2="1600.5" stroke-width="1.2"/>
<line x1="1306.71" x2="1306.71" y1="1575.1" y2="1600.5" stroke-width="1.2"/>
<line x1="1322.94" x2="1322.94" y1="1575.1" y2="1600.5" stroke-width="1.7"/>
<line x1="1329.22" x2="1329.22" y1="1575.1" y2="1600.5" stroke-width="1.2"/>
<line x1="1340.48" x2="1340.48" y1="1575.1" y2="1600.5" stroke-width="1.2"/>
<line x1="1348.92" x2="1348.92" y1="1575.1" y2="1600.5" stroke-width="1.7"/>
<line x1="1017.32" x2="1017.32" y1="1642.4" y2="1673.8" stroke-width="1.2"/>
<line x1="1023.38" x2="1023.38" y1="1643.3" y2="1673.8" stroke-width="1.2"/>
<line x1="1025.97" x2="1025.97" y1="1643.3" y2="1673.8" stroke-width="1.7"/>
<line x1="1042.64" x2="1042.64" y1="1644.3" y2="1673.8" stroke-width="1.2"/>
<line x1="1054.11" x2="1054.11" y1="1645.3" y2="1673.8" stroke-width="2.7"/>
<line x1="1064.94" x2="1064.94" y1="1645.3" y2="1673.8" stroke-width="2.7"/>
<line x1="1069.7" x2="1069.7" y1="1645.3" y2="1673.8" stroke-width="1.2"/>
<line x1="1076.84" x2="1076.84" y1="1646.2" y2="1673.8" stroke-width="1.2"/>
<line x1="1099.57" x2="1099.57" y1="1646.2" y2="1673.8" stroke-width="1.2"/>
<line x1="1104.33" x2="1104.33" y1="1646.2" y2="1673.8" stroke-width="1.7"/>
<line x1="1111.47" x2="1111.47" y1="1646.2" y2="1673.8" stroke-width="2.7"/>
<line x1="1117.97" x2="1117.97" y1="1646.2" y2="1673.8" stroke-width="1.2"/>
<line x1="1129.87" x2="1129.87" y1="1646.2" y2="1673.8" stroke-width="1.2"/>
<line x1="1132.03" x2="1132.03" y1="1646.2" y2="1673.8" stroke-width="1.7"/>
<line x1="1157.58" x2="1157.58" y1="1648.4" y2="1673.8" stroke-width="1.2"/>
<line x1="1172.08" x2="1172.08" y1="1648.4" y2="1673.8" stroke-width="1.7"/>
<line x1="1183.98" x2="1183.98" y1="1648.4" y2="1673.8" stroke-width="1.7"/>
<line x1="1187.23" x2="1187.23" y1="1648.4" y2="1673.8" stroke-width="2.7"/>
<line x1="1191.13" x2="1191.13" y1="1648.4" y2="1673.8" stroke-width="1.7"/>
<line x1="1200.65" x2="1200.65" y1="1648.4" y2="1673.8" stroke-width="1.2"/>
<line x1="1222.94" x2="1222.94" y1="1648.4" y2="1673.8" stroke-width="1.2"/>
<line x1="1234.85" x2="1234.85" y1="1648.4" y2="1673.8" stroke-width="1.2"/>
<line x1="1246.75" x2="1246.75" y1="1648.4" y2="1673.8" stroke-width="1.2"/>
<line x1="1257.58" x2="1257.58" y1="1648.4" y2="1673.8" stroke-width="1.2"/>
<line x1="1271.21" x2="1271.21" y1="1648.4" y2="1673.8" stroke-width="1.2"/>
<line x1="1283.98" x2="1283.98" y1="1648.4" y2="1673.8" stroke-width="1.7"/>
<line x1="1286.8" x2="1286.8" y1="1648.4" y2="1673.8" stroke-width="1.2"/>
<line x1="1289.61" x2="1289.61" y1="1648.4" y2="1673.8" stroke-width="1.2"/>
<line x1="1308.44" x2="1308.44" y1="1648.4" y2="1673.8" stroke-width="1.2"/>
<line x1="1317.1" x2="1317.1" y1="1648.4" y2="1673.8" stroke-width="1.7"/>
<line x1="1319.91" x2="1319.91" y1="1648.4" y2="1673.8" stroke-width="2.7"/>
<line x1="1329.65" x2="1329.65" y1="1648.4" y2="1673.8" stroke-width="1.2"/>
<line x1="1347.4" x2="1347.4" y1="1648.4" y2="1673.8" stroke-width="1.2"/>
<line x1="1016.88" x2="1016.88" y1="1715.7" y2="1747.1" stroke-width="1.2"/>
<line x1="1020.78" x2="1020.78" y1="1716.6" y2="1747.1" stroke-width="1.2"/>
<line x1="1024.46" x2="1024.46" y1="1716.6" y2="1747.1" stroke-width="1.2"/>
<line x1="1032.9" x2="1032.9" y1="1717.6" y2="1747.1" stroke-width="1.2"/>
<line x1="1041.13" x2="1041.13" y1="1717.6" y2="1747.1" stroke-width="2.7"/>
<line x1="1052.6" x2="1052.6" y1="1718.6" y2="1747.1" stroke-width="2.7"/>
<line x1="1055.19" x2="1055.19" y1="1718.6" y2="1747.1" stroke-width="1.2"/>
<line x1="1057.79" x2="1057.79" y1="1718.6" y2="1747.1" stroke-width="1.7"/>
<line x1="1061.9" x2="1061.9" y1="1718.6" y2="1747.1" stroke-width="1.7"/>
<line x1="1065.8" x2="1065.8" y1="1718.6" y2="1747.1" stroke-width="1.7"/>
<line x1="1069.26" x2="1069.26" y1="1718.6" y2="1747.1" stroke-width="2.7"/>
<line x1="1080.09" x2="1080.09" y1="1719.5" y2="1747.1" stroke-width="1.2"/>
<line x1="1090.26" x2="1090.26" y1="1719.5" y2="1747.1" stroke-width="1.2"/>
<line x1="1099.57" x2="1099.57" y1="1719.5" y2="1747.1" stroke-width="1.2"/>
<line x1="1110.82" x2="1110.82" y1="1719.5" y2="1747.1" stroke-width="1.7"/>
<line x1="1112.55" x2="1112.55" y1="1719.5" y2="1747.1" stroke-width="1.2"/>
<line x1="1116.23" x2="1116.23" y1="1719.5" y2="1747.1" stroke-width="1.7"/>
<line x1="1124.46" x2="1124.46" y1="1719.5" y2="1747.1" stroke-width="2.7"/>
<line x1="1126.62" x2="1126.62" y1="1719.5" y2="1747.1" stroke-width="2.7"/>
<line x1="1134.2" x2="1134.2" y1="1719.5" y2="1747.1" stroke-width="1.2"/>
<line x1="1172.51" x2="1172.51" y1="1721.7" y2="1747.1" stroke-width="2.7"/>
<line x1="1184.42" x2="1184.42" y1="1721.7" y2="1747.1" stroke-width="1.2"/>
<line x1="1187.88" x2="1187.88" y1="1721.7" y2="1747.1" stroke-width="1.7"/>
<line x1="1223.59" x2="1223.59" y1="1721.7" y2="1747.1" stroke-width="2.7"/>
<line x1="1242.42" x2="1242.42" y1="1721.7" y2="1747.1" stroke-width="1.2"/>
<line x1="1258.87" x2="1258.87" y1="1721.7" y2="1747.1" stroke-width="1.2"/>
<line x1="1261.9" x2="1261.9" y1="1721.7" y2="1747.1" stroke-width="1.2"/>
<line x1="1272.73" x2="1272.73" y1="1721.7" y2="1747.1" stroke-width="1.2"/>
<line x1="1275.97" x2="1275.97" y1="1721.7" y2="1747.1" stroke-width="1.2"/>
<line x1="1281.39" x2="1281.39" y1="1721.7" y2="1747.1" stroke-width="1.2"/>
<line x1="1286.8" x2="1286.8" y1="1721.7" y2="1747.1" stroke-width="2.7"/>
<line x1="1295.89" x2="1295.89" y1="1721.7" y2="1747.1" stroke-width="1.2"/>
<line x1="1304.55" x2="1304.55" y1="1721.7" y2="1747.1" stroke-width="1.2"/>
<line x1="1315.58" x2="1315.58" y1="1721.7" y2="1747.1" stroke-width="1.7"/>
<line x1="1318.18" x2="1318.18" y1="1721.7" y2="1747.1" stroke-width="1.2"/>
<line x1="1320.35" x2="1320.35" y1="1721.7" y2="1747.1" stroke-width="1.7"/>
<line x1="1324.68" x2="1324.68" y1="1721.7" y2="1747.1" stroke-width="1.7"/>
<line x1="1326.84" x2="1326.84" y1="1721.7" y2="1747.1" stroke-width="2.7"/>
<line x1="1348.05" x2="1348.05" y1="1721.7" y2="1747.1" stroke-width="2.7"/>
<line x1="1018.4" x2="1018.4" y1="1789" y2="1820.4" stroke-width="2.7"/>
<line x1="1037.45" x2="1037.45" y1="1790.9" y2="1820.4" stroke-width="2.7"/>
<line x1="1049.35" x2="1049.35" y1="1791.9" y2="1820.4" stroke-width="1.7"/>
<line x1="1058.87" x2="1058.87" y1="1791.9" y2="1820.4" stroke-width="1.2"/>
<line x1="1062.12" x2="1062.12" y1="1791.9" y2="1820.4" stroke-width="2.7"/>
<line x1="1064.5" x2="1064.5" y1="1791.9" y2="1820.4" stroke-width="2.7"/>
<line x1="1075.76" x2="1075.76" y1="1792.8" y2="1820.4" stroke-width="1.2"/>
<line x1="1078.57" x2="1078.57" y1="1792.8" y2="1820.4" stroke-width="1.2"/>
<line x1="1087.01" x2="1087.01" y1="1792.8" y2="1820.4" stroke-width="1.2"/>
<line x1="1090.91" x2="1090.91" y1="1792.8" y2="1820.4" stroke-width="1.2"/>
<line x1="1099.57" x2="1099.57" y1="1792.8" y2="1820.4" stroke-width="2.7"/>
<line x1="1108.87" x2="1108.87" y1="1792.8" y2="1820.4" stroke-width="1.2"/>
<line x1="1115.37" x2="1115.37" y1="1792.8" y2="1820.4" stroke-width="1.2"/>
<line x1="1129.22" x2="1129.22" y1="1792.8" y2="1820.4" stroke-width="2.7"/>
<line x1="1132.03" x2="1132.03" y1="1792.8" y2="1820.4" stroke-width="2.7"/>
<line x1="1147.19" x2="1147.19" y1="1795" y2="1820.4" stroke-width="1.2"/>
<line x1="1151.52" x2="1151.52" y1="1795" y2="1820.4" stroke-width="1.2"/>
<line x1="1160.17" x2="1160.17" y1="1795" y2="1820.4" stroke-width="2.7"/>
<line x1="1166.23" x2="1166.23" y1="1795" y2="1820.4" stroke-width="1.2"/>
<line x1="1171.43" x2="1171.43" y1="1795" y2="1820.4" stroke-width="1.2"/>
<line x1="1173.59" x2="1173.59" y1="1795" y2="1820.4" stroke-width="1.2"/>
<line x1="1194.81" x2="1194.81" y1="1795" y2="1820.4" stroke-width="1.2"/>
<line x1="1201.73" x2="1201.73" y1="1795" y2="1820.4" stroke-width="1.2"/>
<line x1="1208.87" x2="1208.87" y1="1795" y2="1820.4" stroke-width="1.2"/>
<line x1="1222.29" x2="1222.29" y1="1795" y2="1820.4" stroke-width="1.2"/>
<line x1="1231.17" x2="1231.17" y1="1795" y2="1820.4" stroke-width="1.2"/>
<line x1="1241.99" x2="1241.99" y1="1795" y2="1820.4" stroke-width="1.7"/>
<line x1="1244.16" x2="1244.16" y1="1795" y2="1820.4" stroke-width="1.7"/>
<line x1="1253.68" x2="1253.68" y1="1795" y2="1820.4" stroke-width="1.2"/>
<line x1="1259.74" x2="1259.74" y1="1795" y2="1820.4" stroke-width="1.7"/>
<line x1="1261.9" x2="1261.9" y1="1795" y2="1820.4" stroke-width="1.7"/>
<line x1="1264.07" x2="1264.07" y1="1795" y2="1820.4" stroke-width="1.7"/>
<line x1="1265.8" x2="1265.8" y1="1795" y2="1820.4" stroke-width="1.7"/>
<line x1="1270.13" x2="1270.13" y1="1795" y2="1820.4" stroke-width="1.2"/>
<line x1="1289.39" x2="1289.39" y1="1795" y2="1820.4" stroke-width="1.2"/>
<line x1="1335.71" x2="1335.71" y1="1795" y2="1820.4" stroke-width="1.2"/>
<line x1="1345.02" x2="1345.02" y1="1795" y2="1820.4" stroke-width="1.2"/>
<line x1="1020.56" x2="1020.56" y1="1863.2" y2="1893.7" stroke-width="2.7"/>
<line x1="1024.03" x2="1024.03" y1="1863.2" y2="1893.7" stroke-width="1.7"/>
<line x1="1026.62" x2="1026.62" y1="1863.2" y2="1893.7" stroke-width="1.2"/>
<line x1="1028.57" x2="1028.57" y1="1864.2" y2="1893.7" stroke-width="1.2"/>
<line x1="1031.82" x2="1031.82" y1="1864.2" y2="1893.7" stroke-width="1.7"/>
<line x1="1035.5" x2="1035.5" y1="1864.2" y2="1893.7" stroke-width="1.2"/>
<line x1="1040.48" x2="1040.48" y1="1864.2" y2="1893.7" stroke-width="1.2"/>
<line x1="1042.86" x2="1042.86" y1="1864.2" y2="1893.7" stroke-width="1.7"/>
<line x1="1049.78" x2="1049.78" y1="1865.2" y2="1893.7" stroke-width="1.2"/>
<line x1="1055.84" x2="1055.84" y1="1865.2" y2="1893.7" stroke-width="1.7"/>
<line x1="1057.36" x2="1057.36" y1="1865.2" y2="1893.7" stroke-width="1.2"/>
<line x1="1062.77" x2="1062.77" y1="1865.2" y2="1893.7" stroke-width="1.2"/>
<line x1="1067.75" x2="1067.75" y1="1865.2" y2="1893.7" stroke-width="1.2"/>
<line x1="1074.03" x2="1074.03" y1="1866.1" y2="1893.7" stroke-width="1.7"/>
<line x1="1077.27" x2="1077.27" y1="1866.1" y2="1893.7" stroke-width="1.2"/>
<line x1="1089.83" x2="1089.83" y1="1866.1" y2="1893.7" stroke-width="1.2"/>
<line x1="1096.32" x2="1096.32" y1="1866.1" y2="1893.7" stroke-width="2.7"/>
<line x1="1098.48" x2="1098.48" y1="1866.1" y2="1893.7" stroke-width="2.7"/>
<line x1="1101.73" x2="1101.73" y1="1866.1" y2="1893.7" stroke-width="1.2"/>
<line x1="1108.87" x2="1108.87" y1="1866.1" y2="1893.7" stroke-width="1.2"/>
<line x1="1111.47" x2="1111.47" y1="1866.1" y2="1893.7" stroke-width="1.7"/>
<line x1="1119.7" x2="1119.7" y1="1866.1" y2="1893.7" stroke-width="1.2"/>
<line x1="1124.46" x2="1124.46" y1="1866.1" y2="1893.7" stroke-width="1.2"/>
<line x1="1130.52" x2="1130.52" y1="1866.1" y2="1893.7" stroke-width="1.7"/>
<line x1="1140.69" x2="1140.69" y1="1868.3" y2="1893.7" stroke-width="1.2"/>
<line x1="1146.75" x2="1146.75" y1="1868.3" y2="1893.7" stroke-width="1.2"/>
<line x1="1151.52" x2="1151.52" y1="1868.3" y2="1893.7" stroke-width="1.2"/>
<line x1="1159.52" x2="1159.52" y1="1868.3" y2="1893.7" stroke-width="1.7"/>
<line x1="1161.26" x2="1161.26" y1="1868.3" y2="1893.7" stroke-width="1.7"/>
<line x1="1169.48" x2="1169.48" y1="1868.3" y2="1893.7" stroke-width="1.2"/>
<line x1="1179" x2="1179" y1="1868.3" y2="1893.7" stroke-width="1.2"/>
<line x1="1188.96" x2="1188.96" y1="1868.3" y2="1893.7" stroke-width="1.2"/>
<line x1="1196.54" x2="1196.54" y1="1868.3" y2="1893.7" stroke-width="1.2"/>
<line x1="1202.81" x2="1202.81" y1="1868.3" y2="1893.7" stroke-width="1.2"/>
<line x1="1213.64" x2="1213.64" y1="1868.3" y2="1893.7" stroke-width="1.2"/>
<line x1="1228.35" x2="1228.35" y1="1868.3" y2="1893.7" stroke-width="1.2"/>
<line x1="1233.33" x2="1233.33" y1="1868.3" y2="1893.7" stroke-width="1.7"/>
<line x1="1237.01" x2="1237.01" y1="1868.3" y2="1893.7" stroke-width="2.7"/>
<line x1="1252.16" x2="1252.16" y1="1868.3" y2="1893.7" stroke-width="1.7"/>
<line x1="1254.33" x2="1254.33" y1="1868.3" y2="1893.7" stroke-width="2.7"/>
<line x1="1256.93" x2="1256.93" y1="1868.3" y2="1893.7" stroke-width="1.7"/>
<line x1="1280.74" x2="1280.74" y1="1868.3" y2="1893.7" stroke-width="1.2"/>
<line x1="1283.55" x2="1283.55" y1="1868.3" y2="1893.7" stroke-width="1.2"/>
<line x1="1299.35" x2="1299.35" y1="1868.3" y2="1893.7" stroke-width="1.2"/>
<line x1="1304.76" x2="1304.76" y1="1868.3" y2="1893.7" stroke-width="1.2"/>
<line x1="1310.61" x2="1310.61" y1="1868.3" y2="1893.7" stroke-width="2.7"/>
<line x1="1337.66" x2="1337.66" y1="1868.3" y2="1893.7" stroke-width="1.2"/>
<line x1="1341.99" x2="1341.99" y1="1868.3" y2="1893.7" stroke-width="1.2"/>
<line x1="1345.24" x2="1345.24" y1="1868.3" y2="1893.7" stroke-width="1.2"/>
<line x1="1352.81" x2="1352.81" y1="1868.3" y2="1893.7" stroke-width="2.7"/>
<line x1="1018.4" x2="1018.4" y1="1935.6" y2="1967" stroke-width="1.2"/>
<line x1="1025.32" x2="1025.32" y1="1936.5" y2="1967" stroke-width="2.7"/>
<line x1="1031.39" x2="1031.39" y1="1937.5" y2="1967" stroke-width="1.7"/>
<line x1="1033.33" x2="1033.33" y1="1937.5" y2="1967" stroke-width="1.7"/>
<line x1="1035.28" x2="1035.28" y1="1937.5" y2="1967" stroke-width="1.2"/>
<line x1="1043.94" x2="1043.94" y1="1937.5" y2="1967" stroke-width="1.2"/>
<line x1="1050" x2="1050" y1="1938.5" y2="1967" stroke-width="1.2"/>
<line x1="1056.93" x2="1056.93" y1="1938.5" y2="1967" stroke-width="1.2"/>
<line x1="1062.77" x2="1062.77" y1="1938.5" y2="1967" stroke-width="1.7"/>
<line x1="1067.75" x2="1067.75" y1="1938.5" y2="1967" stroke-width="1.2"/>
<line x1="1074.03" x2="1074.03" y1="1939.4" y2="1967" stroke-width="1.2"/>
<line x1="1077.27" x2="1077.27" y1="1939.4" y2="1967" stroke-width="1.2"/>
<line x1="1088.31" x2="1088.31" y1="1939.4" y2="1967" stroke-width="1.2"/>
<line x1="1098.92" x2="1098.92" y1="1939.4" y2="1967" stroke-width="1.2"/>
<line x1="1106.06" x2="1106.06" y1="1939.4" y2="1967" stroke-width="1.2"/>
<line x1="1108.87" x2="1108.87" y1="1939.4" y2="1967" stroke-width="1.7"/>
<line x1="1111.69" x2="1111.69" y1="1939.4" y2="1967" stroke-width="1.2"/>
<line x1="1114.07" x2="1114.07" y1="1939.4" y2="1967" stroke-width="1.7"/>
<line x1="1115.58" x2="1115.58" y1="1939.4" y2="1967" stroke-width="1.2"/>
<line x1="1127.71" x2="1127.71" y1="1939.4" y2="1967" stroke-width="1.2"/>
<line x1="1130.95" x2="1130.95" y1="1939.4" y2="1967" stroke-width="1.2"/>
<line x1="1140.69" x2="1140.69" y1="1941.6" y2="1967" stroke-width="1.2"/>
<line x1="1146.1" x2="1146.1" y1="1941.6" y2="1967" stroke-width="1.2"/>
<line x1="1151.52" x2="1151.52" y1="1941.6" y2="1967" stroke-width="1.2"/>
<line x1="1157.36" x2="1157.36" y1="1941.6" y2="1967" stroke-width="1.2"/>
<line x1="1159.74" x2="1159.74" y1="1941.6" y2="1967" stroke-width="1.7"/>
<line x1="1166.23" x2="1166.23" y1="1941.6" y2="1967" stroke-width="1.2"/>
<line x1="1172.73" x2="1172.73" y1="1941.6" y2="1967" stroke-width="1.7"/>
<line x1="1179" x2="1179" y1="1941.6" y2="1967" stroke-width="1.2"/>
<line x1="1189.83" x2="1189.83" y1="1941.6" y2="1967" stroke-width="1.2"/>
<line x1="1196.54" x2="1196.54" y1="1941.6" y2="1967" stroke-width="1.2"/>
<line x1="1202.81" x2="1202.81" y1="1941.6" y2="1967" stroke-width="1.2"/>
<line x1="1224.46" x2="1224.46" y1="1941.6" y2="1967" stroke-width="1.2"/>
<line x1="1228.35" x2="1228.35" y1="1941.6" y2="1967" stroke-width="1.7"/>
<line x1="1230.52" x2="1230.52" y1="1941.6" y2="1967" stroke-width="1.7"/>
<line x1="1232.68" x2="1232.68" y1="1941.6" y2="1967" stroke-width="1.7"/>
<line x1="1235.93" x2="1235.93" y1="1941.6" y2="1967" stroke-width="1.7"/>
<line x1="1256.49" x2="1256.49" y1="1941.6" y2="1967" stroke-width="1.2"/>
<line x1="1283.98" x2="1283.98" y1="1941.6" y2="1967" stroke-width="1.2"/>
<line x1="1286.15" x2="1286.15" y1="1941.6" y2="1967" stroke-width="1.2"/>
<line x1="1304.55" x2="1304.55" y1="1941.6" y2="1967" stroke-width="1.2"/>
<line x1="1309.52" x2="1309.52" y1="1941.6" y2="1967" stroke-width="1.7"/>
<line x1="1311.04" x2="1311.04" y1="1941.6" y2="1967" stroke-width="2.7"/>
<line x1="1321.43" x2="1321.43" y1="1941.6" y2="1967" stroke-width="1.2"/>
<line x1="1329" x2="1329" y1="1941.6" y2="1967" stroke-width="1.2"/>
<line x1="1337.66" x2="1337.66" y1="1941.6" y2="1967" stroke-width="1.2"/>
<line x1="1339.39" x2="1339.39" y1="1941.6" y2="1967" stroke-width="1.7"/>
<line x1="1352.81" x2="1352.81" y1="1941.6" y2="1967" stroke-width="1.2"/>
<line x1="1354.33" x2="1354.33" y1="1941.6" y2="1967" stroke-width="1.7"/>
<line x1="1017.75" x2="1017.75" y1="2008.9" y2="2040.3" stroke-width="1.7"/>
<line x1="1020.13" x2="1020.13" y1="2009.8" y2="2040.3" stroke-width="1.2"/>
<line x1="1025.54" x2="1025.54" y1="2009.8" y2="2040.3" stroke-width="1.2"/>
<line x1="1041.13" x2="1041.13" y1="2010.8" y2="2040.3" stroke-width="1.7"/>
<line x1="1048.7" x2="1048.7" y1="2011.8" y2="2040.3" stroke-width="1.7"/>
<line x1="1050.43" x2="1050.43" y1="2011.8" y2="2040.3" stroke-width="1.2"/>
<line x1="1059.74" x2="1059.74" y1="2011.8" y2="2040.3" stroke-width="1.2"/>
<line x1="1076.84" x2="1076.84" y1="2012.7" y2="2040.3" stroke-width="2.7"/>
<line x1="1079.65" x2="1079.65" y1="2012.7" y2="2040.3" stroke-width="2.7"/>
<line x1="1080.95" x2="1080.95" y1="2012.7" y2="2040.3" stroke-width="1.7"/>
<line x1="1088.74" x2="1088.74" y1="2012.7" y2="2040.3" stroke-width="1.7"/>
<line x1="1090.48" x2="1090.48" y1="2012.7" y2="2040.3" stroke-width="2.7"/>
<line x1="1095.67" x2="1095.67" y1="2012.7" y2="2040.3" stroke-width="1.2"/>
<line x1="1100.22" x2="1100.22" y1="2012.7" y2="2040.3" stroke-width="1.2"/>
<line x1="1144.37" x2="1144.37" y1="2014.9" y2="2040.3" stroke-width="1.2"/>
<line x1="1147.19" x2="1147.19" y1="2014.9" y2="2040.3" stroke-width="1.2"/>
<line x1="1161.26" x2="1161.26" y1="2014.9" y2="2040.3" stroke-width="1.2"/>
<line x1="1165.58" x2="1165.58" y1="2014.9" y2="2040.3" stroke-width="2.7"/>
<line x1="1170.35" x2="1170.35" y1="2014.9" y2="2040.3" stroke-width="2.7"/>
<line x1="1172.51" x2="1172.51" y1="2014.9" y2="2040.3" stroke-width="2.7"/>
<line x1="1200.87" x2="1200.87" y1="2014.9" y2="2040.3" stroke-width="1.2"/>
<line x1="1207.14" x2="1207.14" y1="2014.9" y2="2040.3" stroke-width="1.2"/>
<line x1="1212.77" x2="1212.77" y1="2014.9" y2="2040.3" stroke-width="2.7"/>
<line x1="1233.12" x2="1233.12" y1="2014.9" y2="2040.3" stroke-width="1.2"/>
<line x1="1244.59" x2="1244.59" y1="2014.9" y2="2040.3" stroke-width="1.2"/>
<line x1="1250.43" x2="1250.43" y1="2014.9" y2="2040.3" stroke-width="1.2"/>
<line x1="1257.14" x2="1257.14" y1="2014.9" y2="2040.3" stroke-width="1.2"/>
<line x1="1265.58" x2="1265.58" y1="2014.9" y2="2040.3" stroke-width="1.2"/>
<line x1="1278.79" x2="1278.79" y1="2014.9" y2="2040.3" stroke-width="1.2"/>
<line x1="1287.01" x2="1287.01" y1="2014.9" y2="2040.3" stroke-width="1.2"/>
<line x1="1320.78" x2="1320.78" y1="2014.9" y2="2040.3" stroke-width="1.2"/>
<line x1="1332.68" x2="1332.68" y1="2014.9" y2="2040.3" stroke-width="2.7"/>
<line x1="1338.74" x2="1338.74" y1="2014.9" y2="2040.3" stroke-width="1.2"/>
<line x1="1362.55" x2="1362.55" y1="2014.9" y2="2040.3" stroke-width="1.2"/>
<line x1="1018.61" x2="1018.61" y1="2082.2" y2="2113.6" stroke-width="1.2"/>
<line x1="1036.8" x2="1036.8" y1="2084.1" y2="2113.6" stroke-width="1.2"/>
<line x1="1046.97" x2="1046.97" y1="2085.1" y2="2113.6" stroke-width="1.2"/>
<line x1="1079" x2="1079" y1="2086" y2="2113.6" stroke-width="1.2"/>
<line x1="1098.7" x2="1098.7" y1="2086" y2="2113.6" stroke-width="1.2"/>
<line x1="1159.96" x2="1159.96" y1="2088.2" y2="2113.6" stroke-width="1.2"/>
<line x1="1280.74" x2="1280.74" y1="2088.2" y2="2113.6" stroke-width="1.2"/>
<line x1="1314.94" x2="1314.94" y1="2088.2" y2="2113.6" stroke-width="1.7"/>
<line x1="1329" x2="1329" y1="2088.2" y2="2113.6" stroke-width="1.2"/>
<line x1="1029.65" x2="1029.65" y1="2157.4" y2="2186.9" stroke-width="1.2"/>
<line x1="1042.86" x2="1042.86" y1="2157.4" y2="2186.9" stroke-width="1.2"/>
<line x1="1062.12" x2="1062.12" y1="2158.4" y2="2186.9" stroke-width="1.2"/>
<line x1="1088.74" x2="1088.74" y1="2159.3" y2="2186.9" stroke-width="1.2"/>
<line x1="1090.91" x2="1090.91" y1="2159.3" y2="2186.9" stroke-width="1.2"/>
<line x1="1102.16" x2="1102.16" y1="2159.3" y2="2186.9" stroke-width="1.2"/>
<line x1="1110.82" x2="1110.82" y1="2159.3" y2="2186.9" stroke-width="1.7"/>
<line x1="1112.55" x2="1112.55" y1="2159.3" y2="2186.9" stroke-width="1.7"/>
<line x1="1115.58" x2="1115.58" y1="2159.3" y2="2186.9" stroke-width="1.2"/>
<line x1="1128.79" x2="1128.79" y1="2159.3" y2="2186.9" stroke-width="1.2"/>
<line x1="1135.71" x2="1135.71" y1="2161.5" y2="2186.9" stroke-width="1.2"/>
<line x1="1222.29" x2="1222.29" y1="2161.5" y2="2186.9" stroke-width="1.2"/>
<line x1="1229.44" x2="1229.44" y1="2161.5" y2="2186.9" stroke-width="1.2"/>
<line x1="1263.64" x2="1263.64" y1="2161.5" y2="2186.9" stroke-width="1.2"/>
<line x1="1275.97" x2="1275.97" y1="2161.5" y2="2186.9" stroke-width="1.2"/>
<line x1="1294.81" x2="1294.81" y1="2161.5" y2="2186.9" stroke-width="1.2"/>
<line x1="1299.13" x2="1299.13" y1="2161.5" y2="2186.9" stroke-width="1.2"/>
<line x1="1326.84" x2="1326.84" y1="2161.5" y2="2186.9" stroke-width="1.2"/>
<line x1="1352.16" x2="1352.16" y1="2161.5" y2="2186.9" stroke-width="1.2"/>
<line x1="1040.04" x2="1040.04" y1="2230.7" y2="2260.2" stroke-width="1.2"/>
<line x1="1059.96" x2="1059.96" y1="2231.7" y2="2260.2" stroke-width="1.2"/>
<line x1="1062.55" x2="1062.55" y1="2231.7" y2="2260.2" stroke-width="1.2"/>
<line x1="1077.92" x2="1077.92" y1="2232.6" y2="2260.2" stroke-width="1.2"/>
<line x1="1093.94" x2="1093.94" y1="2232.6" y2="2260.2" stroke-width="1.2"/>
<line x1="1100.87" x2="1100.87" y1="2232.6" y2="2260.2" stroke-width="1.2"/>
<line x1="1107.14" x2="1107.14" y1="2232.6" y2="2260.2" stroke-width="1.2"/>
<line x1="1112.99" x2="1112.99" y1="2232.6" y2="2260.2" stroke-width="1.2"/>
<line x1="1117.1" x2="1117.1" y1="2232.6" y2="2260.2" stroke-width="1.2"/>
<line x1="1147.84" x2="1147.84" y1="2234.8" y2="2260.2" stroke-width="1.2"/>
<line x1="1235.06" x2="1235.06" y1="2234.8" y2="2260.2" stroke-width="1.2"/>
<line x1="1260.82" x2="1260.82" y1="2234.8" y2="2260.2" stroke-width="1.2"/>
<line x1="1295.89" x2="1295.89" y1="2234.8" y2="2260.2" stroke-width="1.2"/>
<line x1="1308.44" x2="1308.44" y1="2234.8" y2="2260.2" stroke-width="2.7"/>
<line x1="1321.43" x2="1321.43" y1="2234.8" y2="2260.2" stroke-width="1.2"/>
<line x1="1324.03" x2="1324.03" y1="2234.8" y2="2260.2" stroke-width="1.2"/>
<line x1="1326.84" x2="1326.84" y1="2234.8" y2="2260.2" stroke-width="1.2"/>
</g>
<g font-size="17.5" fill="#4d4d4d" text-anchor="middle">
<line x1="1016.9" x2="1016.9" y1="2309.5" y2="2313.8" stroke="#333333" stroke-width="1.6"/>
<text x="1016.9" y="2331.7">0</text>
<line x1="1131.3" x2="1131.3" y1="2309.5" y2="2313.8" stroke="#333333" stroke-width="1.6"/>
<text x="1131.3" y="2331.7">1000</text>
<line x1="1245.7" x2="1245.7" y1="2309.5" y2="2313.8" stroke="#333333" stroke-width="1.6"/>
<text x="1245.7" y="2331.7">2000</text>
<line x1="1360.1" x2="1360.1" y1="2309.5" y2="2313.8" stroke="#333333" stroke-width="1.6"/>
<text x="1360.1" y="2331.7">3000</text>
</g>
</svg>
</body></html>
